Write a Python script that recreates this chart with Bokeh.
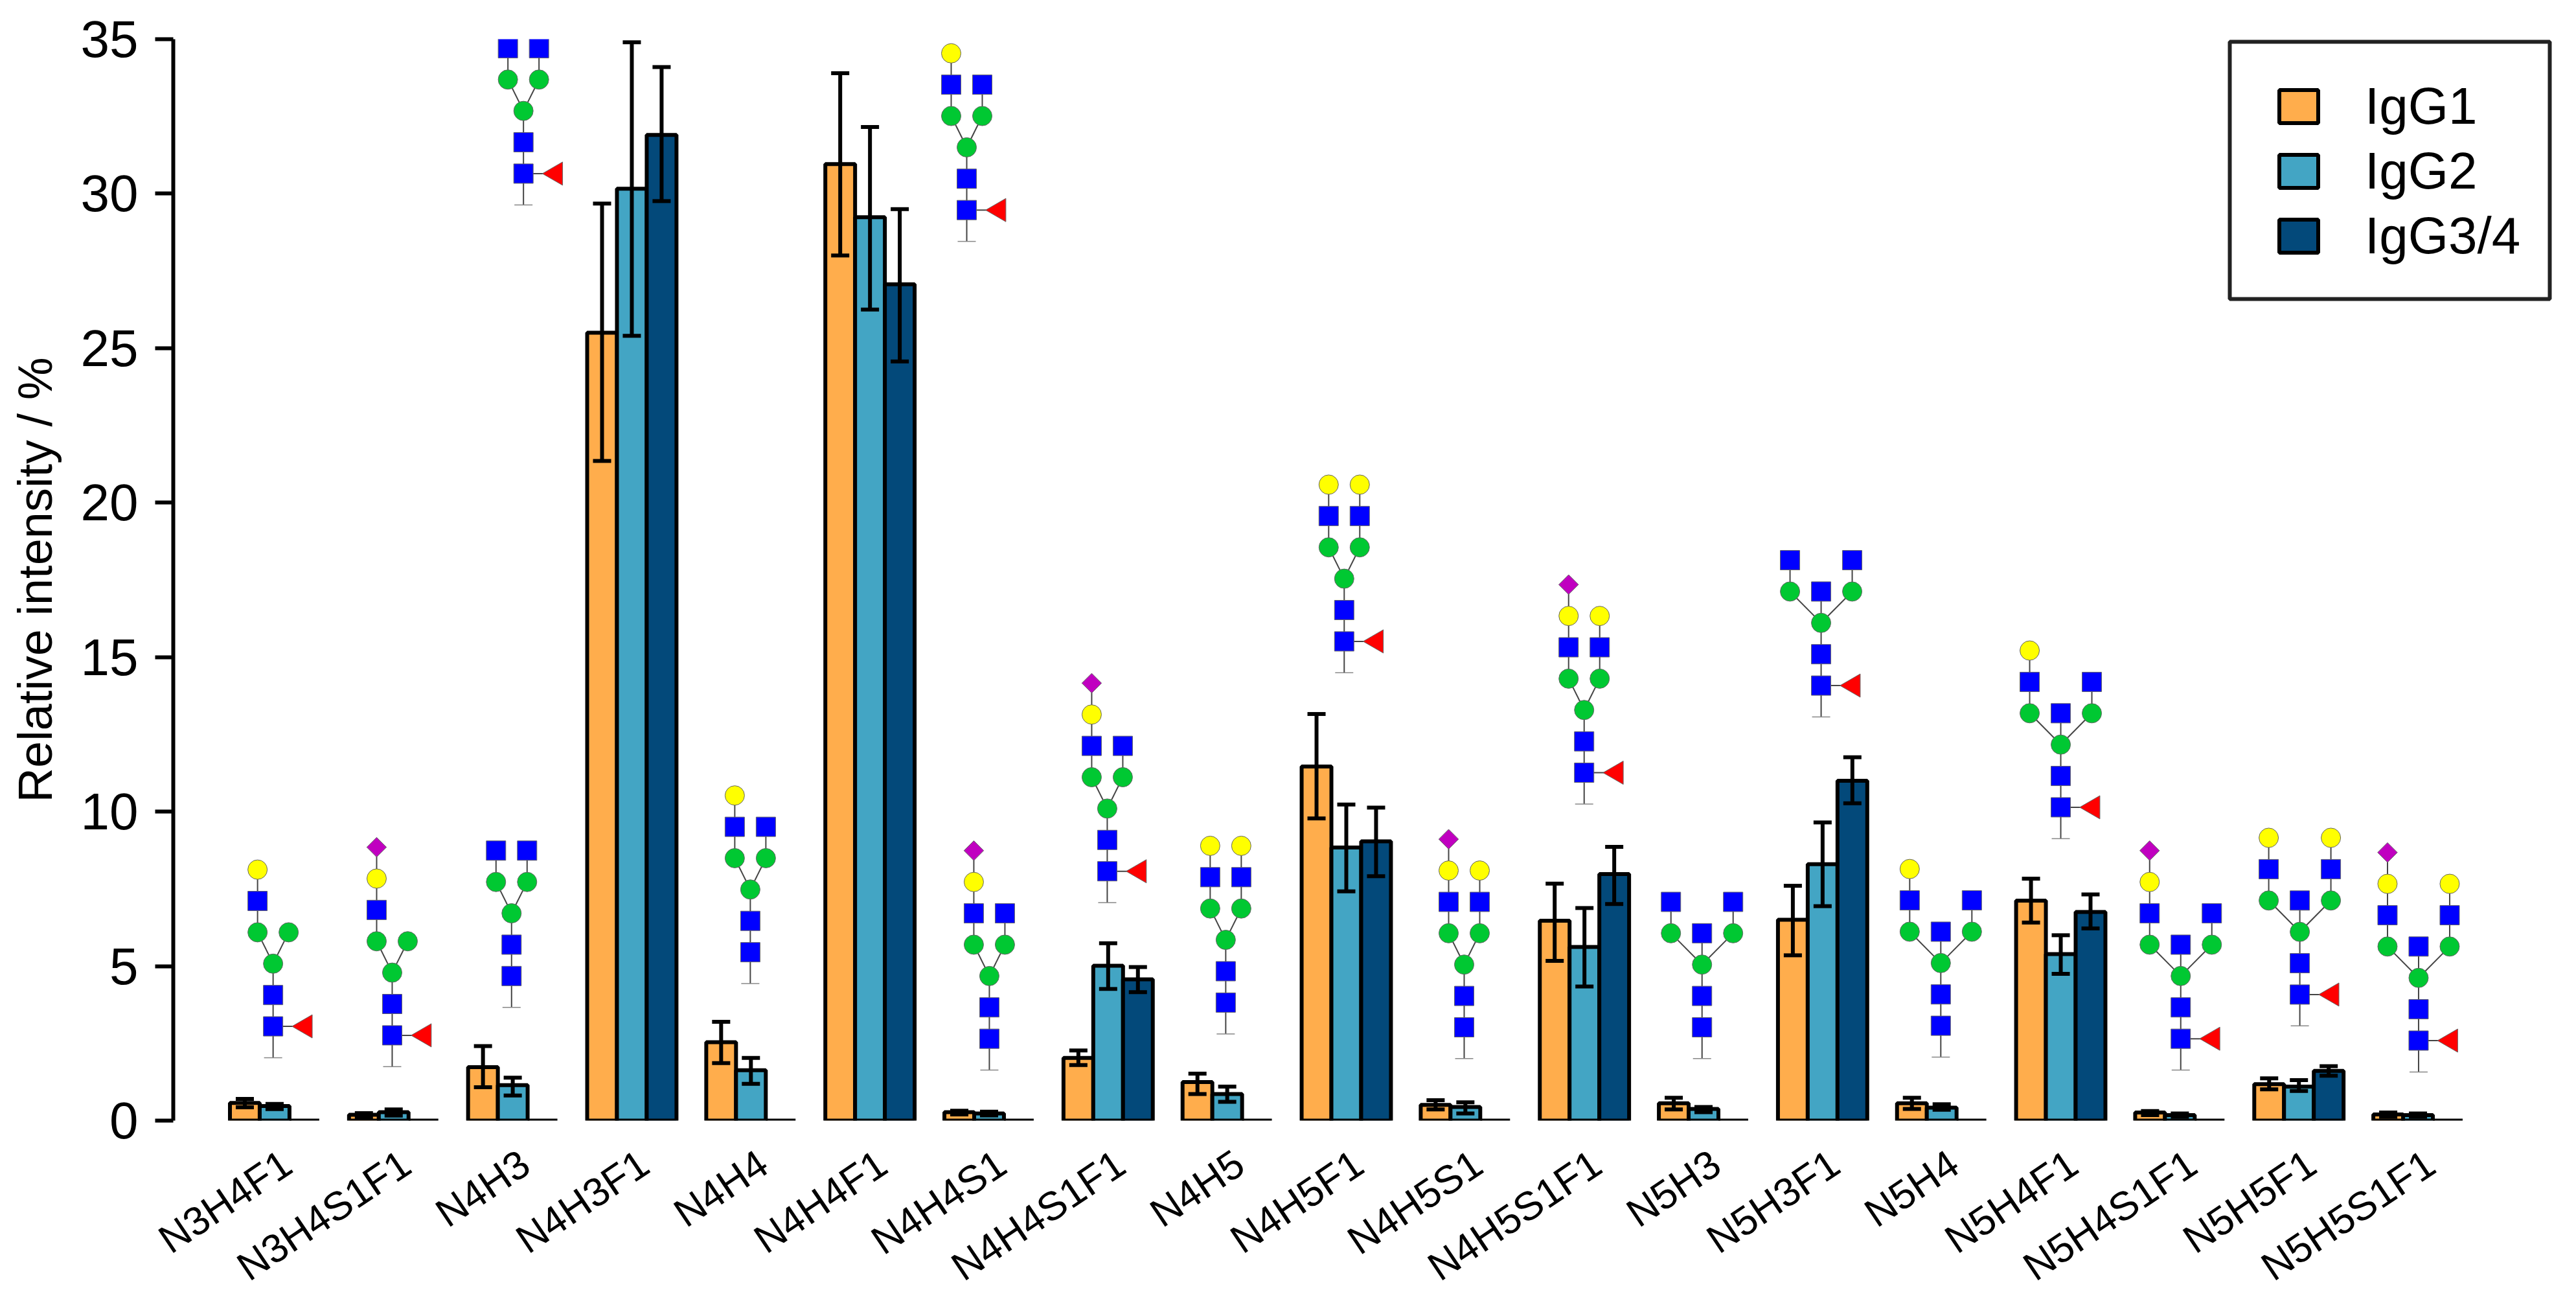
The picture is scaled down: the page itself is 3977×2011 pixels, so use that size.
import re
import math
from bokeh.plotting import figure
from bokeh.models import (ColumnDataSource, Range1d, LinearAxis, FixedTicker, Whisker, TeeHead,
                          BoxAnnotation, Legend, LegendItem)
from bokeh.embed import file_html
from bokeh.resources import INLINE

categories = ["N3H4F1", "N3H4S1F1", "N4H3", "N4H3F1", "N4H4", "N4H4F1", "N4H4S1", "N4H4S1F1", "N4H5", "N4H5F1",
              "N4H5S1", "N4H5S1F1", "N5H3", "N5H3F1", "N5H4", "N5H4F1", "N5H4S1F1", "N5H5F1", "N5H5S1F1"]
igg1 = [0.57, 0.19, 1.73, 25.5, 2.54, 30.96, 0.27, 2.03, 1.25, 11.46, 0.51, 6.47, 0.56, 6.50, 0.56, 7.12, 0.26, 1.18, 0.20]
igg2 = [0.47, 0.27, 1.15, 30.16, 1.63, 29.24, 0.23, 5.01, 0.86, 8.84, 0.44, 5.62, 0.38, 8.30, 0.42, 5.39, 0.18, 1.10, 0.18]
igg34 = [0, 0, 0, 31.9, 0, 27.07, 0, 4.57, 0, 9.04, 0, 7.98, 0, 11.0, 0, 6.75, 0, 1.61, 0]
igg1_low = [0.43, 0.11, 1.08, 21.35, 1.86, 28.0, 0.20, 1.80, 0.86, 9.78, 0.36, 5.17, 0.36, 5.35, 0.38, 6.41, 0.18, 1.01, 0.12]
igg1_high = [0.70, 0.24, 2.41, 29.68, 3.20, 33.9, 0.32, 2.27, 1.52, 13.16, 0.66, 7.67, 0.74, 7.60, 0.74, 7.83, 0.31, 1.37, 0.26]
igg2_low = [0.37, 0.16, 0.81, 25.4, 1.19, 26.25, 0.17, 4.26, 0.61, 7.42, 0.23, 4.34, 0.27, 6.94, 0.35, 4.75, 0.12, 0.96, 0.12]
igg2_high = [0.54, 0.36, 1.39, 34.9, 2.03, 32.16, 0.29, 5.74, 1.10, 10.23, 0.59, 6.88, 0.44, 9.65, 0.53, 6.0, 0.23, 1.31, 0.23]
igg34_low = [None, None, None, 29.76, None, 24.57, None, 4.16, None, 7.91, None, 7.01, None, 10.27, None, 6.22, None, 1.45, None]
igg34_high = [None, None, None, 34.1, None, 29.5, None, 4.97, None, 10.13, None, 8.86, None, 11.76, None, 7.32, None, 1.76, None]
series_names = ["IgG1", "IgG2", "IgG3/4"]
series_colors = ["#FFAD4C", "#43A5C4", "#03497A"]
y_ticks = [0, 5, 10, 15, 20, 25, 30, 35]
y_label = "Relative intensity / %"

# where each glycan cartoon stands (core GlcNAc), in axis units
glycan_x = [2.45, 6.45, 10.46, 10.86, 18.48, 25.75, 26.51, 30.47, 34.45, 38.43, 42.46, 46.49, 50.45, 54.45, 58.47, 62.50, 66.53, 70.53, 74.52]
glycan_y = [3.05, 2.76, 4.68, 30.65, 5.45, 29.47, 2.65, 8.07, 3.82, 15.51, 3.02, 11.26, 3.02, 14.08, 3.07, 10.14, 2.65, 4.08, 2.59]
glycan_names = list(categories)

# page layout, pixels
W, H = 3961, 1995
PX_AXIS, PX_RIGHT = 267, 3960
PX_Y0, PX_TOP = 1729.5, 60
UX, UY = 45.96, 47.7      # pixels per axis unit
PX_X1 = 354.5             # page x of axis value 1


def X(px):
    return 1 + (px - PX_X1) / UX


def Y(py):
    return (PX_Y0 - py) / UY


p = figure(width=W, height=H, output_backend="svg", toolbar_location=None,
           frame_width=PX_RIGHT - PX_AXIS, frame_height=int(PX_Y0 - PX_TOP),
           x_range=Range1d(X(PX_AXIS), X(PX_RIGHT)), y_range=Range1d(0, Y(PX_TOP)),
           x_axis_type=None, y_axis_type=None,
           min_border_left=PX_AXIS, min_border_top=PX_TOP,
           min_border_bottom=int(H - PX_Y0), min_border_right=1)
p.outline_line_alpha = 0
p.background_fill_color = "white"

# ---- bars
LW = 6
groups = list(range(len(categories)))
renderers = []
all_vals = [igg1, igg2, igg34]
lows = [igg1_low, igg2_low, igg34_low]
highs = [igg1_high, igg2_high, igg34_high]
for s, (vals, col) in enumerate(zip(all_vals, series_colors)):
    xs = [4 * g + 1.5 + s for g in groups]
    r = p.vbar(x=xs, top=vals, bottom=0, width=1, fill_color=col, line_color="black", line_width=LW)
    renderers.append(r)

# ---- error bars
for s in range(3):
    pts = [(4 * g + 1.5 + s, lows[s][g], highs[s][g]) for g in groups if lows[s][g] is not None]
    src = ColumnDataSource(dict(x=[a[0] for a in pts], lo=[a[1] for a in pts], hi=[a[2] for a in pts]))
    w = Whisker(source=src, base="x", lower="lo", upper="hi", dimension="height", level="overlay",
                line_color="black", line_width=LW,
                upper_head=TeeHead(size=28, line_color="black", line_width=LW),
                lower_head=TeeHead(size=28, line_color="black", line_width=LW))
    p.add_layout(w)

# ---- glycan cartoons, derived from the composition names
ROW = 48.4 / UY
ARM, ARM_BIS = 24 / UX, 48 / UX
FUC = 50 / UX
TAIL = 14 / UX
blue_x, blue_y, green_x, green_y, yellow_x, yellow_y, sia_x, sia_y, fuc_x, fuc_y = ([] for _ in range(10))
lx0, ly0, lx1, ly1 = [], [], [], []
tx0, tx1, ty = [], [], []


def link(a, b):
    lx0.append(a[0]); ly0.append(a[1]); lx1.append(b[0]); ly1.append(b[1])


for name, cx, cy in zip(glycan_names, glycan_x, glycan_y):
    comp = {k: int(v) for k, v in re.findall(r"([NHSF])(\d)", name)}
    n, h, s_, f = comp.get("N", 0), comp.get("H", 0), comp.get("S", 0), comp.get("F", 0)
    row = lambda k: cy + k * ROW
    blue_x += [cx, cx]; blue_y += [row(0), row(1)]
    green_x.append(cx); green_y.append(row(2))
    link((cx, row(-1)), (cx, row(2)))
    tx0.append(cx - TAIL); tx1.append(cx + TAIL); ty.append(row(-1))
    if f:
        fuc_x.append(cx + FUC); fuc_y.append(row(0))
        link((cx, row(0)), (cx + FUC, row(0)))
    arm = ARM_BIS if n == 5 else ARM
    arms = [cx - arm, cx + arm]
    for ax in arms:
        green_x.append(ax); green_y.append(row(3))
        link((cx, row(2)), (ax, row(3)))
    if n == 5:
        blue_x.append(cx); blue_y.append(row(3))
        link((cx, row(2)), (cx, row(3)))
    nterm = 1 if n == 3 else 2
    gal = h - 3
    for i in range(nterm):
        ax = arms[i]
        blue_x.append(ax); blue_y.append(row(4))
        link((ax, row(3)), (ax, row(4)))
        if i < gal:
            yellow_x.append(ax); yellow_y.append(row(5))
            link((ax, row(4)), (ax, row(5)))
            if i == 0 and s_:
                sia_x.append(ax); sia_y.append(row(6))
                link((ax, row(5)), (ax, row(6)))

p.segment(lx0, ly0, lx1, ly1, line_color="#444444", line_width=2)
p.segment(tx0, ty, tx1, ty, line_color="#888888", line_width=1.5)
OUT = dict(line_color="#666666", line_width=1)
p.scatter(blue_x, blue_y, marker="square", size=30, fill_color="#0000FF", **OUT)
p.scatter(green_x, green_y, marker="circle", size=30, fill_color="#00C832", **OUT)
p.scatter(yellow_x, yellow_y, marker="circle", size=30, fill_color="#FFFF00", **OUT)
p.scatter(sia_x, sia_y, marker="square", size=21.5, angle=math.pi / 4, fill_color="#C000C0", **OUT)
p.scatter(fuc_x, fuc_y, marker="triangle", size=36, angle=math.pi / 2, fill_color="#FF0000", **OUT)

# ---- axes
yax = LinearAxis(ticker=FixedTicker(ticks=y_ticks), bounds=(0, 35), axis_label=y_label)
yax.axis_line_width = LW
yax.axis_line_color = "black"
yax.major_tick_line_width = LW
yax.major_tick_line_color = "black"
yax.major_tick_out = 28
yax.major_tick_in = 0
yax.minor_tick_line_alpha = 0
yax.major_label_text_font = "Liberation Sans"
yax.major_label_text_font_size = "80px"
yax.major_label_text_color = "black"
yax.major_label_standoff = 26
yax.axis_label_text_font = "Liberation Sans"
yax.axis_label_text_font_size = "74px"
yax.axis_label_text_font_style = "normal"
yax.axis_label_text_color = "black"
yax.axis_label_standoff = 26
p.add_layout(yax, "left")

tick_pos = [4 * g + 2.92 for g in groups]
xax = LinearAxis(ticker=FixedTicker(ticks=tick_pos))
xax.major_label_overrides = {t: c for t, c in zip(tick_pos, categories)}
xax.axis_line_alpha = 0
xax.major_tick_line_alpha = 0
xax.minor_tick_line_alpha = 0
xax.major_tick_out = 0
xax.major_tick_in = 0
xax.major_label_orientation = math.radians(34)
xax.major_label_standoff = 60
xax.major_label_text_font = "Liberation Sans"
xax.major_label_text_font_size = "62px"
xax.major_label_text_color = "black"
p.add_layout(xax, "below")

# ---- legend
p.add_layout(BoxAnnotation(left=X(3442), right=X(3936), top=Y(64), bottom=Y(461), fill_alpha=0,
                           line_color="#222222", line_alpha=1, line_width=6, level="overlay"))
legend = Legend(items=[LegendItem(label=n, renderers=[r]) for n, r in zip(series_names, renderers)],
                location=(3511 - PX_AXIS, int(PX_Y0 - 411) + 1),
                border_line_alpha=0, background_fill_alpha=0, padding=0, margin=0, spacing=8,
                glyph_width=75, glyph_height=64, label_standoff=65,
                label_text_font="Liberation Sans", label_text_font_size="80px", label_text_color="black")
p.add_layout(legend, "center")

open("out.html", "w").write(file_html(p, INLINE))
